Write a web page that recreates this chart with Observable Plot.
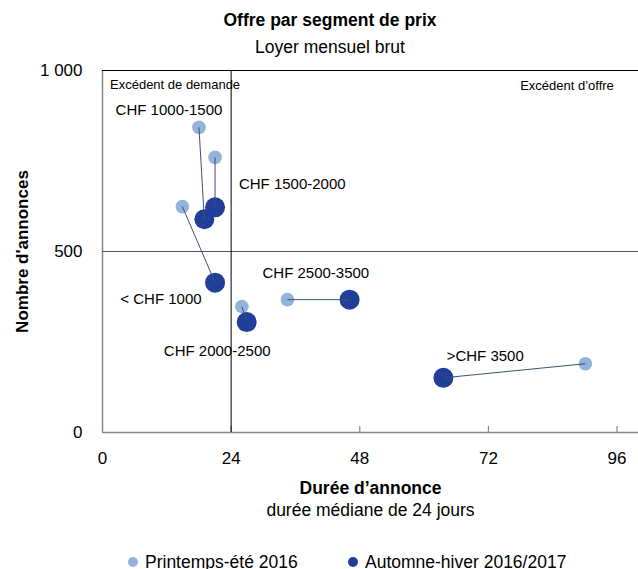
<!DOCTYPE html>
<html><head><meta charset="utf-8">
<script src="https://cdn.jsdelivr.net/npm/d3@7"></script>
<script src="https://cdn.jsdelivr.net/npm/@observablehq/plot@0.6"></script>
<style>
body{margin:0;background:#fff;font-family:"Liberation Sans",Arial,sans-serif;color:#000;}
#wrap{width:638px;}
.t{padding-top:7px;line-height:27px;font-size:17.5px;font-weight:bold;text-align:center;padding-left:22px;}
.s{line-height:26px;font-size:17.5px;text-align:center;padding-left:22px;}
#chart svg{display:block;}
#legend{position:relative;height:37px;font-size:17.5px;}
.item{position:absolute;top:17px;line-height:26px;white-space:nowrap;padding-left:17px;}
.dot{position:absolute;left:0;top:8px;width:10px;height:10px;border-radius:50%;}
</style>
</head><body>
<div id="wrap">
<div class="t">Offre par segment de prix</div>
<div class="s">Loyer mensuel brut</div>
<div id="chart"></div>
<div id="legend"></div>
</div>
<script>
const segments = ["< CHF 1000", "CHF 1000-1500", "CHF 1500-2000", "CHF 2000-2500", "CHF 2500-3500", ">CHF 3500"];
const durationPE = [14.9, 18.0, 21.0, 26.0, 34.5, 90.1];
const countPE = [624, 843, 760, 348, 367, 190];
const durationAH = [21.0, 19.0, 21.0, 26.9, 46.1, 63.6];
const countAH = [414, 589, 622, 305, 367, 151];
const labelX = [10.9, 12.4, 35.4, 21.4, 39.8, 71.4];
const labelY = [369, 891, 685, 224, 440, 210];
const seriesNames = ["Printemps-été 2016", "Automne-hiver 2016/2017"];
const seriesColors = ["#93B3DA", "#213F99"];
const xTicks = [0, 24, 48, 72, 96];
const yTicks = [0, 500, 1000];
const yTickLabels = ["0", "500", "1 000"];
const zoneNames = ["Excédent de demande", "Excédent d’offre"];
const zoneX = [1.4, 95.4];
const zoneY = [961, 959];
const medianDuration = 24;
const midCount = 500;

const rows = segments.map((s, i) => ({
  segment: s, x1: durationPE[i], y1: countPE[i], x2: durationAH[i], y2: countAH[i], lx: labelX[i], ly: labelY[i]
}));
const zones = zoneNames.map((z, i) => ({name: z, x: zoneX[i], y: zoneY[i]}));

const font = '"Liberation Sans", Arial, sans-serif';
const chart = Plot.plot({
  width: 638, height: 472,
  marginLeft: 102, marginRight: 0, marginTop: 10, marginBottom: 100,
  style: {fontFamily: font, fontSize: "17px", color: "#000", background: "#fff", overflow: "visible"},
  x: {domain: [0, 100]},
  y: {domain: [0, 1000]},
  marks: [
    Plot.axisX(xTicks, {tickSize: 0, tickPadding: 19, tickFormat: d => String(d), label: null, fontSize: 17}),
    Plot.axisY(yTicks, {tickSize: 0, tickPadding: 20, tickFormat: d => yTickLabels[yTicks.indexOf(d)], label: null, fontSize: 17}),
    Plot.text(rows, {x: "lx", y: "ly", text: "segment", fontSize: 15, fill: "#000"}),
    Plot.text(zones.slice(0, 1), {x: "x", y: "y", text: "name", textAnchor: "start", fontSize: 13, fill: "#000"}),
    Plot.text(zones.slice(1), {x: "x", y: "y", text: "name", textAnchor: "end", fontSize: 13, fill: "#000"}),
    Plot.ruleY([0], {stroke: "#868686", strokeWidth: 1.5}),
    Plot.ruleX([0], {stroke: "#868686", strokeWidth: 1.5}),
    Plot.ruleX(xTicks.slice(1), {y1: 0, y2: 0, insetBottom: 6, stroke: "#868686", strokeWidth: 1.2}),
    Plot.ruleY([1000], {stroke: "#000"}),
    Plot.ruleY([midCount], {stroke: "#555"}),
    Plot.ruleX([medianDuration], {stroke: "#000"}),
    Plot.dot(rows, {x: "x1", y: "y1", r: 6.8, fill: seriesColors[0], stroke: "none"}),
    Plot.dot(rows, {x: "x2", y: "y2", r: 10, fill: seriesColors[1], stroke: "none"}),
    Plot.link(rows, {x1: "x1", y1: "y1", x2: "x2", y2: "y2", stroke: "#3F5170", strokeWidth: 1}),
    Plot.text(["Durée d’annonce"], {frameAnchor: "bottom", dy: 61, fontWeight: "bold", fontSize: 17.5, fill: "#000"}),
    Plot.text(["durée médiane de 24 jours"], {frameAnchor: "bottom", dy: 83, fontSize: 17.5, fill: "#000"}),
    Plot.text(["Nombre d'annonces"], {frameAnchor: "left", textAnchor: "middle", dx: -79.5, rotate: -90, fontWeight: "bold", fontSize: 17, fill: "#000"})
  ]
});
document.getElementById("chart").appendChild(chart);

const legend = document.getElementById("legend");
const lefts = [128, 348];
seriesNames.forEach((n, i) => {
  const it = document.createElement("div");
  it.className = "item";
  it.style.left = lefts[i] + "px";
  const d = document.createElement("span");
  d.className = "dot";
  d.style.background = seriesColors[i];
  it.appendChild(d);
  it.appendChild(document.createTextNode(n));
  legend.appendChild(it);
});
</script>
</body></html>
